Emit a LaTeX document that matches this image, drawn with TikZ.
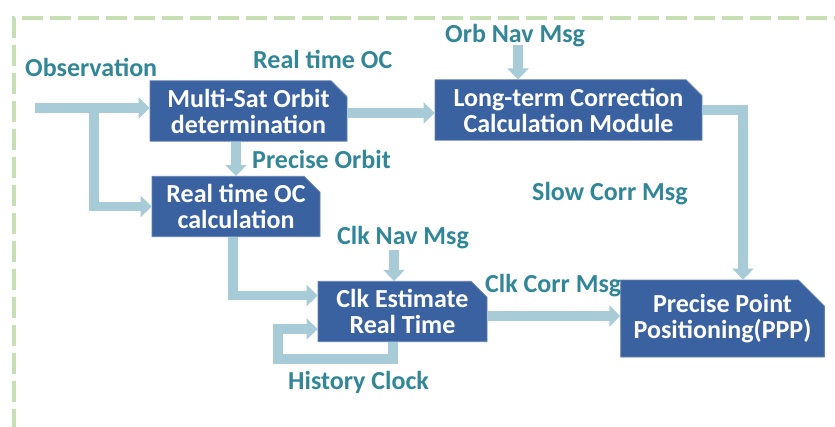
\documentclass[tikz,border=0pt]{standalone}
\usepackage{fontspec}
\setmainfont{Carlito}
\usetikzlibrary{positioning,shapes.misc,arrows.meta}

\definecolor{boxblue}{RGB}{59,98,160}
\definecolor{flowblue}{RGB}{168,204,215}
\definecolor{msgteal}{RGB}{49,135,152}
\definecolor{framegreen}{RGB}{198,224,180}

\begin{document}
\begin{tikzpicture}[x=1pt,y=-1pt,%
	main node/.style={
		chamfered rectangle,
		chamfered rectangle corners=north east,
		chamfered rectangle xsep=8pt,
		chamfered rectangle ysep=8pt,
		fill=boxblue,
		draw=boxblue!80!white,
		line width=0.8pt,
		inner sep=0pt,
		text=white,
		font=\fontsize{26}{26}\selectfont\bfseries,
		align=center
	},
	msg/.style={
		text=msgteal,
		font=\fontsize{26}{26}\selectfont\bfseries,
		anchor=base west,
		inner sep=0pt
	},
	flow/.style={draw=flowblue, line width=9.5pt, -{Triangle[width=21pt,length=11pt]}},
]
	\useasboundingbox[fill=white] (0,0) rectangle (835,426);
	\draw[framegreen, line width=4.5pt, dash pattern=on 21pt off 7pt] (14,430) -- (14,18) -- (840,18);

	\node[main node, minimum width=197pt, minimum height=58pt] (1) at (248.5,111) {Multi-Sat Orbit\\determination};
	\node[main node, minimum width=168pt, minimum height=57pt] (2) at (236,206.5) {Real time OC\\calculation};
	\node[main node, minimum width=267pt, minimum height=60pt] (3) at (568.5,110) {Long-term Correction\\Calculation Module};
	\node[main node, minimum width=169pt, minimum height=53pt] (4) at (402.5,311.5) {Clk Estimate\\Real Time};
	\node[main node, minimum width=199pt, minimum height=77pt,
		chamfered rectangle xsep=13pt, chamfered rectangle ysep=13pt] (5) at (722.5,318.5) {Precise Point\\Positioning(PPP)};

	\coordinate (obs) at (35,108);
	\coordinate (split) at (94,108);
	\coordinate (orbnav) at (518,45);
	\coordinate (clknav) at (394,250);
	\coordinate (hist) at (278,359);

	\path[flow] (obs) -- (obs -| 1.west);
	\path[flow] (split) |- (2.west);
	\path[flow] (1.south -| 2.north) -- (2.north);
	\path[flow] ([yshift=-2pt]1.east) -- ([yshift=-2pt]1.east -| 3.west);
	\path[flow] (orbnav) -- (orbnav |- 3.north);
	\path[flow] (3.east) -| ([xshift=20.5pt]5.north);
	\path[flow] ([xshift=-3pt]2.south) |- ([yshift=16pt]4.west);
	\path[flow] (clknav) -- (clknav |- 4.north);
	\path[flow] ([yshift=-4.5pt]4.east) -- ([yshift=-4.5pt]4.east -| 5.west);
	\path[flow] ([xshift=-9.5pt]4.south) |- (hist) |- ([yshift=-17.5pt]4.west);

	\node[msg] (obs label) at (25,76) {Observation};
	\node[msg] (oc label) at (253,68) {Real time OC};
	\node[msg] (orbit label) at (252,168) {Precise Orbit};
	\node[msg] (orbnav label) at (445,42.5) {Orb Nav Msg};
	\node[msg] (slow label) at (532,200) {Slow Corr Msg};
	\node[msg] (clknav label) at (337,244) {Clk Nav Msg};
	\node[msg] (clkcorr label) at (485,292) {Clk Corr Msg};
	\node[msg] (hist label) at (288,389) {History Clock};
\end{tikzpicture}
\end{document}
